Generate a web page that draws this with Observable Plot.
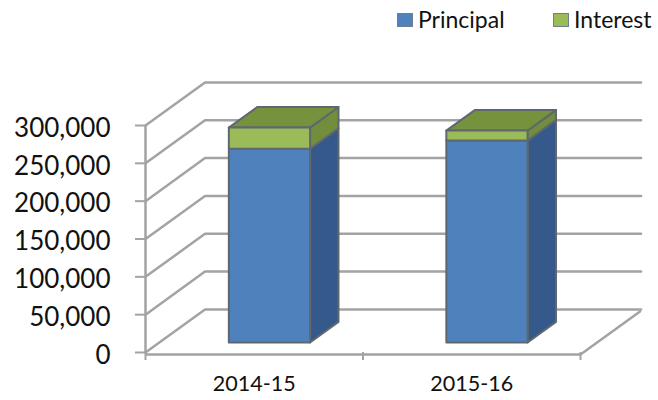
<!DOCTYPE html>
<html><head><meta charset="utf-8">
<script src="https://cdn.jsdelivr.net/npm/d3@7"></script>
<script src="https://cdn.jsdelivr.net/npm/@observablehq/plot@0.6"></script>
<style>
html,body{margin:0;padding:0;background:#fff;font-family:Lato,sans-serif}
#legend{position:relative;height:40px;font-size:23px;color:#111}
#legend span{position:absolute;top:6px;line-height:26px;white-space:nowrap}
#legend i{position:absolute;top:13px;width:14px;height:12px;border:1px solid #6d7f90;box-sizing:content-box}
svg{display:block}
</style></head><body>
<div id="legend"></div>
<div id="chart"></div>
<script>
const categories = ["2014-15", "2015-16"];
const principal = [256000, 267000];
const interest = [28000, 13000];
const yTicks = [0, 50000, 100000, 150000, 200000, 250000, 300000];
const gridValues = [0, 50000, 100000, 150000, 200000, 250000, 300000];
const seriesNames = ["Principal", "Interest"];
const seriesColors = ["#4f81bd", "#9bbb59"];

// Oblique depth: one unit of depth moves a point this far in category and value units.
const depthX = 0.2736, depthY = 56900;
const barFront = 0.2326, barBack = 0.71;
const barStart = 0.3195, barWidth = 0.3735;
const gridEnd = 2.005;
const P = (x, v, d) => ({x: x + d * depthX, y: v + d * depthY});

const grey = "#a3a3a3", edge = "#5f686e";
const face = (pts, fill) => Plot.line([...pts, pts[0]], {x: "x", y: "y", fill, stroke: edge, strokeWidth: 2});

const gridPts = gridValues.flatMap(v => [
  {...P(0, v, 0), v}, {...P(0, v, 1), v}, {...P(gridEnd, v, 1), v}
]);

const barMarks = categories.flatMap((c, i) => {
  const a = i + barStart, b = a + barWidth;
  const p = principal[i], t = p + interest[i];
  const [f, k] = [barFront, barBack];
  return [
    face([P(b, 0, f), P(b, 0, k), P(b, p, k), P(b, p, f)], "#35598a"),
    face([P(b, p, f), P(b, p, k), P(b, t, k), P(b, t, f)], "#728d3c"),
    face([P(a, t, f), P(a, t, k), P(b, t, k), P(b, t, f)], "#76923c"),
    face([P(a, 0, f), P(b, 0, f), P(b, p, f), P(a, p, f)], seriesColors[0]),
    face([P(a, p, f), P(b, p, f), P(b, t, f), P(a, t, f)], seriesColors[1])
  ];
});

const fmt = d3.format(",");
const chart = Plot.plot({
  width: 658, height: 360,
  marginLeft: 145, marginRight: 78, marginTop: 85, marginBottom: 48,
  style: {fontFamily: "Lato, sans-serif", background: "#fff", color: "#111", overflow: "visible"},
  x: {type: "linear", domain: [0, 2]},
  y: {type: "linear", domain: [0, 300000]},
  marks: [
    Plot.line(gridPts, {x: "x", y: "y", z: "v", stroke: grey, strokeWidth: 2.5}),
    Plot.line([{x: 2, y: 0}, P(2, 0, 1)], {x: "x", y: "y", stroke: grey, strokeWidth: 2.5, dy: 2}),
    Plot.ruleX([0], {y1: 0, y2: 300000, stroke: grey, strokeWidth: 2.5}),
    Plot.ruleY([0], {x1: 0, x2: 2, stroke: grey, strokeWidth: 2.5, dy: 2}),
    ...barMarks,
    Plot.axisY({ticks: yTicks, tickSize: 10, tickFormat: () => "", stroke: grey, strokeWidth: 2, label: null}),
    Plot.axisY({ticks: yTicks, tickSize: 0, tickPadding: 35, fontSize: 26, dy: 3, tickFormat: fmt, label: null}),
    Plot.axisX({ticks: [0, 1, 2], tickSize: 8, tickFormat: () => "", stroke: grey, strokeWidth: 2, label: null}),
    Plot.axisX({ticks: [0.5, 1.5], tickSize: 0, tickPadding: 23, fontSize: 21.5, tickFormat: d => categories[Math.floor(d)], label: null})
  ]
});
document.getElementById("chart").append(chart);

const legend = document.getElementById("legend");
const swatchLeft = [397, 553], textLeft = [418, 574];
seriesNames.forEach((n, i) => {
  const s = document.createElement("i");
  s.style.left = swatchLeft[i] + "px"; s.style.background = seriesColors[i];
  const t = document.createElement("span");
  t.style.left = textLeft[i] + "px"; t.textContent = n;
  legend.append(s, t);
});
</script>
</body></html>
